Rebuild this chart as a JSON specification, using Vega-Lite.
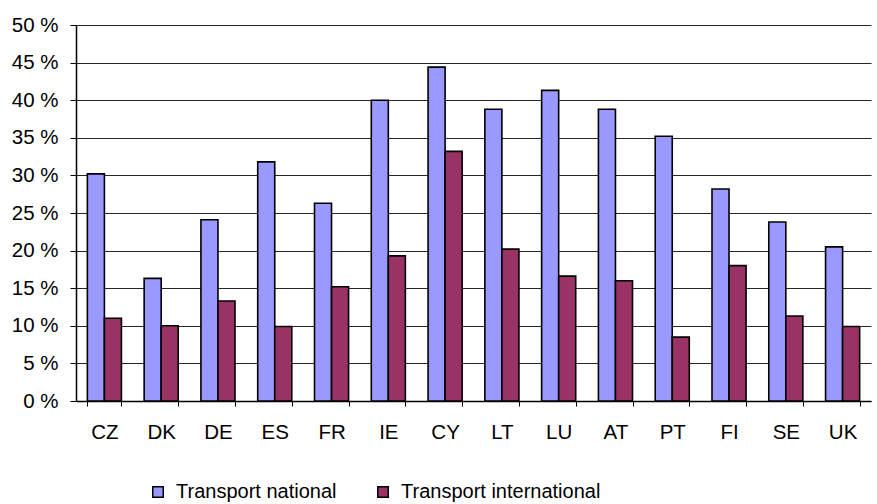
{
  "$schema": "https://vega.github.io/schema/vega-lite/v6.json",
  "width": 795,
  "height": 376,
  "autosize": {"type": "none"},
  "padding": {"left": 76, "top": 25, "right": 6, "bottom": 103},
  "background": "white",
  "config": {
    "font": "Liberation Sans",
    "view": {"stroke": null},
    "axis": {"labelFont": "Liberation Sans", "labelColor": "black", "labelFontSize": 20.5, "domainColor": "black", "tickColor": "black"}
  },
  "data": {
    "values": [
      {"country": "CZ", "series": "Transport national", "value": 30.2},
      {"country": "CZ", "series": "Transport international", "value": 11.0},
      {"country": "DK", "series": "Transport national", "value": 16.3},
      {"country": "DK", "series": "Transport international", "value": 10.0},
      {"country": "DE", "series": "Transport national", "value": 24.1},
      {"country": "DE", "series": "Transport international", "value": 13.3},
      {"country": "ES", "series": "Transport national", "value": 31.8},
      {"country": "ES", "series": "Transport international", "value": 9.9},
      {"country": "FR", "series": "Transport national", "value": 26.3},
      {"country": "FR", "series": "Transport international", "value": 15.2},
      {"country": "IE", "series": "Transport national", "value": 40.0},
      {"country": "IE", "series": "Transport international", "value": 19.3},
      {"country": "CY", "series": "Transport national", "value": 44.4},
      {"country": "CY", "series": "Transport international", "value": 33.2},
      {"country": "LT", "series": "Transport national", "value": 38.8},
      {"country": "LT", "series": "Transport international", "value": 20.2},
      {"country": "LU", "series": "Transport national", "value": 41.3},
      {"country": "LU", "series": "Transport international", "value": 16.6},
      {"country": "AT", "series": "Transport national", "value": 38.8},
      {"country": "AT", "series": "Transport international", "value": 16.0},
      {"country": "PT", "series": "Transport national", "value": 35.2},
      {"country": "PT", "series": "Transport international", "value": 8.5},
      {"country": "FI", "series": "Transport national", "value": 28.2},
      {"country": "FI", "series": "Transport international", "value": 18.0},
      {"country": "SE", "series": "Transport national", "value": 23.8},
      {"country": "SE", "series": "Transport international", "value": 11.3},
      {"country": "UK", "series": "Transport national", "value": 20.5},
      {"country": "UK", "series": "Transport international", "value": 9.9}
    ]
  },
  "mark": {"type": "bar", "stroke": "black", "strokeWidth": 1.6},
  "encoding": {
    "x": {
      "field": "country",
      "type": "nominal",
      "sort": null,
      "scale": {"paddingInner": 0.4, "paddingOuter": 0.2},
      "axis": {
        "title": null,
        "labelAngle": 0,
        "tickBand": "extent",
        "tickSize": 5,
        "labelPadding": 16,
        "domainWidth": 1.5,
        "grid": false
      }
    },
    "xOffset": {"field": "series", "type": "nominal", "sort": ["Transport national", "Transport international"]},
    "y": {
      "field": "value",
      "type": "quantitative",
      "scale": {"domain": [0, 50], "nice": false},
      "axis": {
        "title": null,
        "values": [0, 5, 10, 15, 20, 25, 30, 35, 40, 45, 50],
        "labelExpr": "datum.value + ' %'",
        "tickSize": 6,
        "labelPadding": 12,
        "grid": true,
        "gridColor": "black",
        "gridOpacity": 0.85,
        "gridWidth": 1,
        "domainWidth": 1.5
      }
    },
    "color": {
      "field": "series",
      "type": "nominal",
      "scale": {"domain": ["Transport national", "Transport international"], "range": ["#9999FF", "#993366"]},
      "legend": {
        "title": null,
        "orient": "none",
        "direction": "horizontal",
        "legendX": 72,
        "legendY": 457,
        "symbolType": "square",
        "symbolSize": 110,
        "symbolStrokeColor": "black",
        "symbolStrokeWidth": 1.5,
        "symbolOpacity": 1,
        "labelFontSize": 20,
        "labelFont": "Liberation Sans",
        "labelColor": "black",
        "labelOffset": 8,
        "labelLimit": 0,
        "columnPadding": 36
      }
    }
  }
}
